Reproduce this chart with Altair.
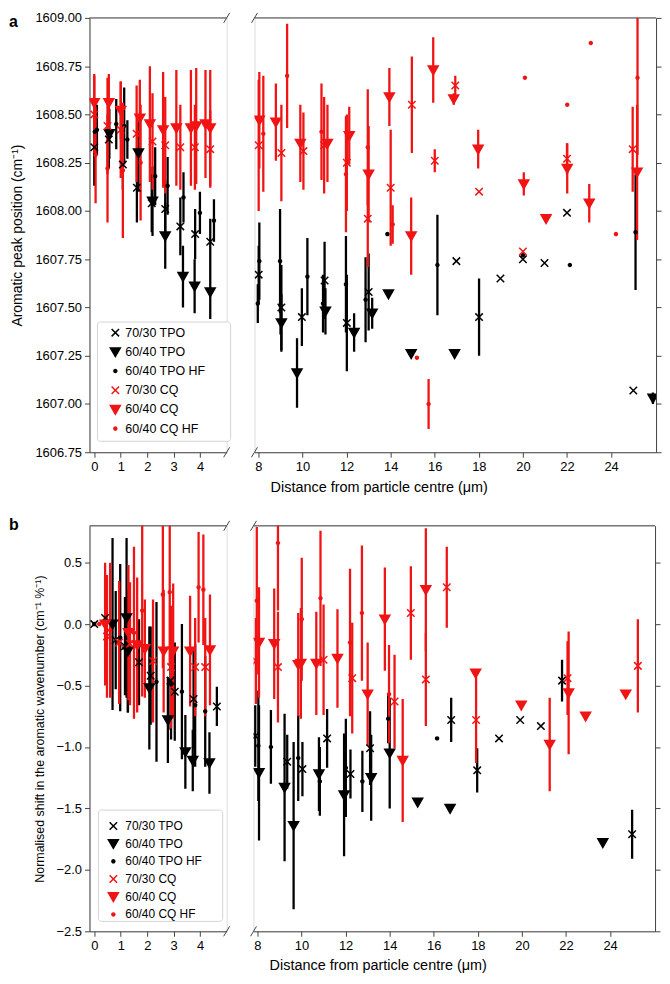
import altair as alt
import pandas as pd

SERIES = ["70/30 TPO", "60/40 TPO", "60/40 TPO HF", "70/30 CQ", "60/40 CQ", "60/40 CQ HF"]
RED = "#f01414"
COLORS = ["#000000", "#000000", "#000000", RED, RED, RED]
X_PATH = "M-0.75,-0.75L0.75,0.75M-0.75,0.75L0.75,-0.75"
TRI_PATH = "M-1,-0.8L1,-0.8L0,0.95Z"
DOT_PATH = "M-0.3,0A0.3,0.3 0 1,0 0.3,0A0.3,0.3 0 1,0 -0.3,0Z"
SHAPES = [X_PATH, TRI_PATH, DOT_PATH, X_PATH, TRI_PATH, DOT_PATH]

# ---------------- Panel a : aromatic peak position (cm-1) ----------------
# (x, y, half error) ; error 0 = no error bar
A_LEFT = {
    "70/30 TPO": ([0.0, 0.55, 1.08, 1.61, 2.17, 2.68, 3.25, 3.81, 4.38],
                  [1608.33, 1608.37, 1608.24, 1608.12, 1608.04, 1608.01, 1607.92, 1607.88, 1607.84],
                  [0.20, 0.15, 0.13, 0.18, 0.15, 0.15, 0.15, 0.13, 0.12]),
    "60/40 TPO": ([0.57, 1.67, 2.2, 2.68, 3.35, 3.79, 4.38],
                  [1608.40, 1608.30, 1608.05, 1607.87, 1607.66, 1607.61, 1607.58],
                  [0.13, 0.20, 0.18, 0.17, 0.16, 0.14, 0.14]),
    "60/40 TPO HF": ([0.02, 0.1, 0.83, 1.13, 1.25, 2.3, 2.77, 3.37, 3.99, 4.52],
                     [1608.41, 1608.42, 1608.45, 1608.44, 1608.37, 1608.18, 1608.13, 1608.07, 1607.99, 1607.95],
                     [0.13, 0.13, 0.13, 0.20, 0.10, 0.15, 0.15, 0.13, 0.11, 0.11]),
    "70/30 CQ": ([0.0, 0.5, 1.0, 1.6, 2.2, 2.68, 3.25, 3.8, 4.38],
                 [1608.50, 1608.44, 1608.42, 1608.40, 1608.36, 1608.34, 1608.33, 1608.33, 1608.32],
                 [0.20, 0.25, 0.25, 0.25, 0.25, 0.25, 0.22, 0.22, 0.20]),
    "60/40 CQ": ([0.0, 0.55, 1.0, 1.72, 2.1, 2.6, 3.1, 3.65, 3.85, 4.2, 4.38],
                 [1608.56, 1608.56, 1608.52, 1608.48, 1608.45, 1608.42, 1608.43, 1608.43, 1608.44, 1608.45, 1608.43],
                 [0.15, 0.15, 0.15, 0.20, 0.30, 0.30, 0.30, 0.30, 0.30, 0.28, 0.30]),
    "60/40 CQ HF": ([0.05, 0.5, 1.08, 1.75],
                    [1608.29, 1608.22, 1608.21, 1608.25],
                    [0.25, 0.28, 0.35, 0.30]),
}
A_RIGHT = {
    "70/30 TPO": ([8.01, 9.04, 9.97, 11.0, 12.01, 13.0, 16.98, 18.01, 18.98, 20.0, 20.98, 22.0, 25.01],
                  [1607.67, 1607.50, 1607.45, 1607.64, 1607.42, 1607.58, 1607.74, 1607.45, 1607.65, 1607.75, 1607.73, 1607.99, 1607.07],
                  [0.15, 0.22, 0.15, 0.20, 0.25, 0.20, 0, 0.20, 0, 0, 0, 0, 0]),
    "60/40 TPO": ([9.04, 9.75, 11.04, 12.34, 13.16, 13.9, 14.93, 16.9, 25.9],
                  [1607.42, 1607.16, 1607.48, 1607.37, 1607.47, 1607.57, 1607.26, 1607.26, 1607.03],
                  [0.15, 0.18, 0.12, 0.10, 0.08, 0, 0, 0, 0.03]),
    "60/40 TPO HF": ([7.97, 8.04, 8.98, 9.0, 10.22, 10.93, 11.97, 12.86, 13.85, 16.12, 20.0, 22.13, 25.11],
                     [1607.52, 1607.74, 1607.74, 1607.51, 1607.66, 1607.52, 1607.62, 1607.54, 1607.88, 1607.72, 1607.77, 1607.72, 1607.89],
                     [0.10, 0.20, 0.27, 0.15, 0.20, 0.15, 0.25, 0.22, 0, 0.26, 0, 0, 0.30]),
    "70/30 CQ": ([8.01, 9.04, 10.04, 10.98, 12.01, 12.96, 14.0, 14.96, 16.0, 16.93, 18.01, 20.0, 22.0, 24.98],
                 [1608.34, 1608.30, 1608.31, 1608.34, 1608.25, 1607.96, 1608.12, 1608.55, 1608.26, 1608.65, 1608.10, 1607.79, 1608.27, 1608.32],
                 [0.34, 0.25, 0.20, 0.25, 0.25, 0.25, 0.30, 0.25, 0.06, 0.05, 0, 0, 0.08, 0.22]),
    "60/40 CQ": ([8.04, 8.79, 9.9, 11.13, 12.12, 13.0, 13.94, 14.93, 15.93, 16.86, 17.97, 20.04, 21.05, 22.01, 23.01, 25.18],
                 [1608.47, 1608.46, 1608.35, 1608.35, 1608.39, 1608.19, 1608.59, 1607.87, 1608.73, 1608.58, 1608.32, 1608.14, 1607.96, 1608.22, 1608.04, 1608.20],
                 [0.25, 0.20, 0.20, 0.20, 0.15, 0.25, 0.15, 0.20, 0.17, 0.03, 0.10, 0.06, 0, 0.13, 0.10, 0.35]),
    "60/40 CQ HF": ([8.22, 9.3, 10.86, 11.97, 12.96, 14.09, 15.19, 15.72, 20.09, 22.01, 23.08, 24.22, 25.2],
                    [1608.40, 1608.70, 1608.41, 1608.19, 1608.33, 1607.93, 1607.24, 1607.00, 1608.69, 1608.55, 1608.87, 1607.88, 1608.69],
                    [0.30, 0.27, 0.25, 0.30, 0.30, 0.10, 0, 0.13, 0, 0, 0, 0, 0.40]),
}

# ---------------- Panel b : normalised shift ----------------
B_LEFT = {
    "70/30 TPO": ([0.0, 0.41, 0.81, 1.16, 1.69, 2.13, 2.88, 3.04, 3.75, 4.63],
                  [0.0, 0.05, -0.13, -0.18, -0.31, -0.42, -0.46, -0.55, -0.61, -0.67],
                  [0, 0.35, 0.40, 0.40, 0.35, 0.40, 0.40, 0.40, 0.40, 0.16]),
    "60/40 TPO": ([0.69, 1.22, 1.27, 2.08, 2.78, 3.44, 3.72, 4.35],
                  [0.0, 0.05, -0.22, -0.52, -0.78, -1.04, -1.11, -1.13],
                  [0.70, 0.65, 0.50, 0.50, 0.35, 0.30, 0.25, 0.25]),
    "60/40 TPO HF": ([0.0, 0.98, 1.27, 2.35, 2.9, 3.31, 3.81, 4.19],
                     [0.0, -0.11, -0.22, -0.47, -0.49, -0.55, -0.66, -0.71],
                     [0, 0.60, 0.50, 0.65, 0.45, 0.55, 0.50, 0.45]),
    "70/30 CQ": ([0.48, 0.94, 1.35, 2.22, 2.9, 3.81, 4.19],
                 [-0.10, -0.15, -0.16, -0.30, -0.35, -0.35, -0.35],
                 [0.50, 0.50, 0.50, 0.50, 0.50, 0.40, 0.40]),
    "60/40 CQ": ([0.41, 1.29, 1.62, 1.91, 2.62, 2.98, 3.62, 4.37],
                 [0.0, -0.07, -0.17, -0.20, -0.22, -0.22, -0.22, -0.21],
                 [0.50, 0.55, 0.55, 0.40, 0.50, 0.55, 0.45, 0.45]),
    "60/40 CQ HF": ([0.19, 0.6, 1.5, 1.81, 2.59, 2.85, 3.94, 4.12],
                    [0.0, -0.05, -0.07, 0.11, 0.24, 0.26, 0.30, 0.28],
                    [0, 0.55, 0.70, 0.70, 0.60, 0.60, 0.45, 0.45]),
}
B_RIGHT = {
    "70/30 TPO": ([7.9, 9.35, 10.04, 11.16, 12.22, 13.11, 16.79, 17.97, 18.96, 19.92, 20.86, 21.82, 25.0],
                  [-0.91, -1.12, -1.18, -0.93, -1.22, -1.01, -0.78, -1.19, -0.93, -0.78, -0.83, -0.46, -1.71],
                  [0.25, 0.22, 0.22, 0.24, 0.20, 0.30, 0.18, 0.18, 0, 0, 0, 0.17, 0.20]),
    "60/40 TPO": ([8.07, 9.23, 9.64, 10.79, 11.93, 13.16, 14.0, 15.27, 16.74, 23.67],
                  [-1.21, -1.33, -1.64, -1.22, -1.39, -1.25, -1.05, -1.45, -1.50, -1.78],
                  [0.55, 0.60, 0.68, 0.30, 0.50, 0.35, 0.45, 0, 0, 0]),
    "60/40 TPO HF": ([8.04, 8.61, 9.85, 10.83, 12.01, 12.76, 13.93, 16.15],
                     [-0.99, -1.00, -1.09, -1.28, -1.17, -1.28, -0.77, -0.93],
                     [0.45, 0.30, 0.35, 0.28, 0.40, 0.25, 0.20, 0]),
    "70/30 CQ": ([7.93, 8.93, 11.0, 12.3, 14.22, 14.96, 15.64, 16.59, 17.92, 22.07, 25.26],
                 [-0.30, -0.35, -0.29, -0.44, -0.63, 0.09, -0.45, 0.30, -0.78, -0.44, -0.34],
                 [0.35, 0.45, 0.45, 0.45, 0.38, 0.38, 0.38, 0.33, 0.35, 0.30, 0.38]),
    "60/40 CQ": ([8.07, 8.76, 9.85, 9.97, 10.67, 11.63, 13.0, 13.78, 14.59, 15.64, 17.9, 19.97, 21.26, 22.12, 22.89, 24.71],
                 [-0.15, -0.16, -0.33, -0.32, -0.32, -0.28, -0.57, 0.04, -1.11, 0.28, -0.40, -0.66, -0.98, -0.56, -0.75, -0.57],
                 [0.45, 0.45, 0.42, 0.45, 0.42, 0.40, 0.42, 0.42, 0.50, 0.50, 0, 0, 0.38, 0.50, 0, 0]),
    "60/40 CQ HF": ([7.97, 8.93, 10.01, 10.86, 12.2, 12.74, 13.97],
                    [0.19, 0.66, 0.04, 0.21, -0.15, 0.09, -0.57],
                    [0.60, 0.55, 0.50, 0.55, 0.60, 0.55, 0.40]),
}

A_YTICKS = [1606.75, 1607.0, 1607.25, 1607.5, 1607.75, 1608.0, 1608.25, 1608.5, 1608.75, 1609.0]
B_YTICKS = [-2.5, -2.0, -1.5, -1.0, -0.5, 0.0, 0.5]
LEFT_XTICKS = [0, 1, 2, 3, 4]
RIGHT_XTICKS = [8, 10, 12, 14, 16, 18, 20, 22, 24]
LEFT_XDOM = [-0.18, 5.0]
RIGHT_XDOM = [7.82, 26.04]
LEGEND_ROWS = [0, 1, 2, 3, 4, 5]

FONT = "Liberation Sans"
AXC = "#444444"
L_W, R_W = 138, 404
A_H, B_H = 437, 408


def frame(data):
    rows = []
    for s in SERIES:
        xs, ys, es = data[s]
        for x, y, e in zip(xs, ys, es):
            rows.append({"s": s, "x": x, "y": y, "e": e, "lo": y - e, "hi": y + e})
    return pd.DataFrame(rows)


DUMMY = pd.DataFrame({"k": [0]})
LEG_DF = pd.DataFrame({"s": SERIES, "row": LEGEND_ROWS})


def cscale():
    return alt.Scale(domain=SERIES, range=COLORS)


def segment(data, left, H, ydom, yticks, yfmt, ytitle, ytfs, label, label_y, legend, xtpad):
    W = L_W if left else R_W
    df = frame(data)
    xaxis_kw = dict(values=LEFT_XTICKS if left else RIGHT_XTICKS, format="d", grid=False,
                    labelFontSize=13, labelFont=FONT, labelColor="#000", tickSize=5,
                    domainColor=AXC, tickColor=AXC, labelPadding=3)
    if left:
        xaxis_kw["title"] = None
    else:
        xaxis_kw.update(title="Distance from particle centre (\u03bcm)", titleX=125,
                        titleFontSize=14.5, titleFontWeight="normal", titleFont=FONT,
                        titlePadding=xtpad, titleColor="#000")
    xenc = alt.X("x:Q", scale=alt.Scale(domain=(LEFT_XDOM if left else RIGHT_XDOM), nice=False, zero=False),
                 axis=alt.Axis(**xaxis_kw))
    yaxis_kw = dict(values=yticks, format=yfmt, grid=False, labelFontSize=13, labelFont=FONT,
                    labelColor="#000", tickSize=5, domainColor=AXC, tickColor=AXC, labelPadding=3)
    if left:
        yaxis_kw.update(orient="left", title=ytitle, titleFontSize=ytfs, titleFontWeight="normal",
                        titleFont=FONT, titlePadding=10, titleColor="#000")
    else:
        yaxis_kw.update(orient="right", labels=False, title=None)
    yscale = alt.Scale(domain=ydom, nice=False, zero=False)

    layers = []
    if legend is not None:
        bx1, by1, bx2, by2, symx, labx, r0, r1, fs = legend
        layers.append(alt.Chart(DUMMY).mark_rect(fill="white", stroke="#d4d4d4", strokeWidth=1,
                                                 cornerRadius=3).encode(
            x=alt.value(bx1), x2=alt.value(bx2), y=alt.value(by1), y2=alt.value(by2)))

    top = alt.Chart(DUMMY).mark_rule(color=AXC, strokeWidth=1).encode(
        x=alt.value(0), x2=alt.value(W), y=alt.value(0))
    sx = W if left else 0
    sl1 = alt.Chart(DUMMY).mark_rule(color=AXC, strokeWidth=1).encode(
        x=alt.value(sx - 3), x2=alt.value(sx + 3), y=alt.value(5), y2=alt.value(-5))
    sl2 = alt.Chart(DUMMY).mark_rule(color=AXC, strokeWidth=1).encode(
        x=alt.value(sx - 3), x2=alt.value(sx + 3), y=alt.value(H + 5), y2=alt.value(H - 5))

    bars_y = alt.Y("lo:Q", scale=yscale, axis=None) if left else \
        alt.Y("lo:Q", scale=yscale, axis=alt.Axis(**yaxis_kw))
    bars = alt.Chart(df).transform_filter("datum.e > 0").mark_rule(strokeWidth=2.3, clip=True).encode(
        x=xenc, y=bars_y, y2="hi:Q",
        color=alt.Color("s:N", scale=cscale(), legend=None),
    )
    pts = alt.Chart(df).mark_point(filled=True, size=100, strokeWidth=1.5, opacity=1, clip=True).encode(
        x=xenc,
        y=alt.Y("y:Q", scale=yscale, axis=alt.Axis(**yaxis_kw)),
        fill=alt.Fill("s:N", scale=cscale(), legend=None),
        stroke=alt.Stroke("s:N", scale=cscale(), legend=None),
        shape=alt.Shape("s:N", scale=alt.Scale(domain=SERIES, range=SHAPES), legend=None),
    )
    layers += [top, sl1, sl2, bars, pts]

    if legend is not None:
        rscale = alt.Scale(domain=[0, 5], range=[r0, r1], nice=False, zero=False)
        leg_pts = alt.Chart(LEG_DF).mark_point(filled=True, size=100, strokeWidth=1.5, opacity=1).encode(
            x=alt.value(symx),
            y=alt.Y("row:Q", scale=rscale, axis=None),
            fill=alt.Fill("s:N", scale=cscale(), legend=None),
            stroke=alt.Stroke("s:N", scale=cscale(), legend=None),
            shape=alt.Shape("s:N", scale=alt.Scale(domain=SERIES, range=SHAPES), legend=None),
        )
        leg_txt = alt.Chart(LEG_DF).mark_text(align="left", baseline="middle", fontSize=fs, font=FONT,
                                              color="#000").encode(
            x=alt.value(labx),
            y=alt.Y("row:Q", scale=rscale, axis=None),
            text="s:N",
        )
        layers += [leg_pts, leg_txt]

    if label is not None:
        layers.append(alt.Chart(DUMMY).mark_text(text=label, fontSize=16, fontWeight="bold", font=FONT,
                                                 align="left", baseline="top", color="#000").encode(
            x=alt.value(-81), y=alt.value(label_y)))
    ch = alt.layer(*layers).properties(width=W, height=H)
    if left:
        ch = ch.resolve_scale(y="independent")
    return ch


RES = dict(x="independent", y="independent", color="independent", fill="independent",
           stroke="independent", shape="independent")

a_left = segment(A_LEFT, True, A_H, [1606.75, 1609.0], A_YTICKS, ".2f",
                 "Aromatic peak position (cm\u207b\u00b9)", 14, "a", -4,
                 (8, A_H - 131, 142, A_H - 11, 26, 36, A_H - 120.3, A_H - 23.8, 12.5), 8)
a_right = segment(A_RIGHT, False, A_H, [1606.75, 1609.0], A_YTICKS, ".2f", None, 14, None, 0, None, 8)
b_left = segment(B_LEFT, True, B_H, [-2.5, 0.8], B_YTICKS, ".1f",
                 "Normalised shift in the aromatic wavenumber  (cm\u207b\u00b9 %\u207b\u00b9)", 12.5, "b", -9,
                 (9, B_H - 122, 134, B_H - 10, 24, 36, B_H - 106, B_H - 17, 12), 6)
b_right = segment(B_RIGHT, False, B_H, [-2.5, 0.8], B_YTICKS, ".1f", None, 12.5, None, 0, None, 6)

row_a = alt.hconcat(a_left, a_right, spacing=19).resolve_scale(**RES)
row_b = alt.hconcat(b_left, b_right, spacing=19).resolve_scale(**RES)

chart = alt.vconcat(row_a, row_b, spacing=21).resolve_scale(**RES).properties(
    padding={"left": 0, "top": 0, "right": 0, "bottom": 0}).configure_view(stroke=None).configure(font=FONT)

chart.save("out.html", embed_options={"renderer": "svg", "actions": False})
